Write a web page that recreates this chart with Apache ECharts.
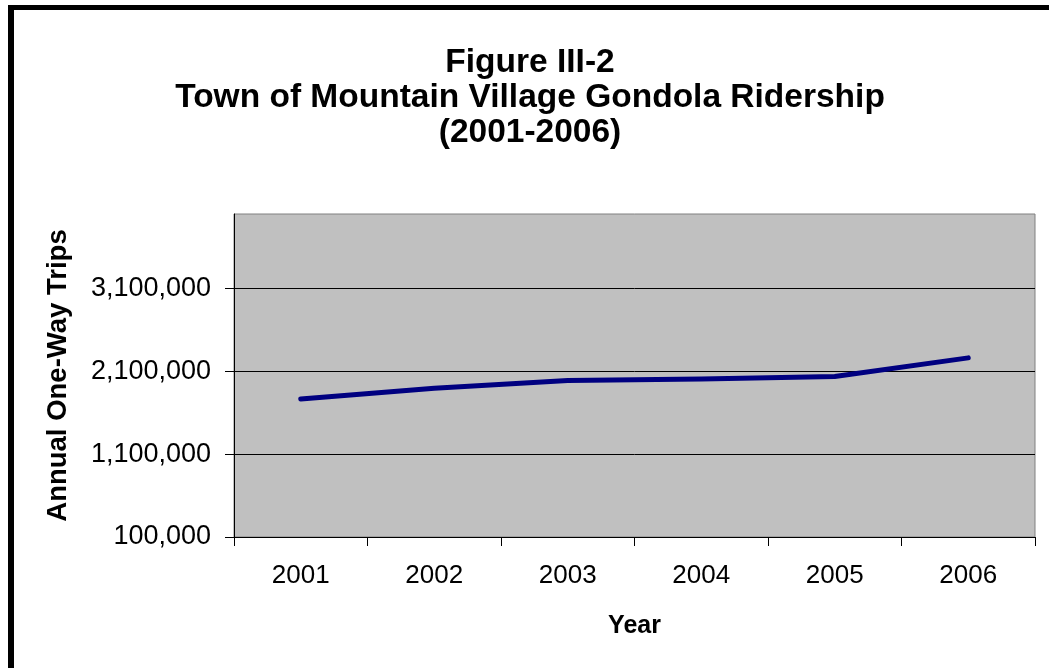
<!DOCTYPE html>
<html>
<head>
<meta charset="utf-8">
<script src="https://cdn.jsdelivr.net/npm/echarts@6/dist/echarts.min.js"></script>
<style>
  html, body { margin: 0; padding: 0; background: #fff; }
  #chart { width: 1049px; height: 668px; }
</style>
</head>
<body>
<div id="chart"></div>
<script>
// data
const years = ["2001", "2002", "2003", "2004", "2005", "2006"];
const trips = [1765000, 1897000, 1989000, 2008000, 2037000, 2263000];
const yTicks = [100000, 1100000, 2100000, 3100000];

const font = "'Liberation Sans', Arial, sans-serif";
const chart = echarts.init(document.getElementById("chart"));

chart.setOption({
  backgroundColor: "#fff",
  animation: false,
  title: {
    text: "Figure III-2\nTown of Mountain Village Gondola Ridership\n(2001-2006)",
    left: 530,
    top: 45,
    padding: 0,
    textAlign: "center",
    textStyle: {
      fontFamily: font,
      fontSize: 33.5,
      fontWeight: "bold",
      lineHeight: 35,
      color: "#000",
    },
  },
  // outer frame (left and top edges only visible)
  graphic: [
    { type: "rect", shape: { x: 8, y: 5, width: 6, height: 700 }, style: { fill: "#000" } },
    { type: "rect", shape: { x: 8, y: 5, width: 1100, height: 5 }, style: { fill: "#000" } },
  ],
  grid: {
    left: 234,
    top: 214,
    width: 801,
    height: 323,
    show: true,
    backgroundColor: "#c0c0c0",
    borderColor: "#808080",
    borderWidth: 1,
  },
  xAxis: {
    type: "category",
    data: years,
    boundaryGap: true,
    name: "Year",
    nameLocation: "middle",
    nameGap: 77,
    nameTextStyle: { fontFamily: font, fontSize: 25, fontWeight: "bold", color: "#000" },
    axisLine: { lineStyle: { color: "#000", width: 1 } },
    axisTick: { show: true, alignWithLabel: false, length: 9, lineStyle: { color: "#000" } },
    axisLabel: { fontFamily: font, fontSize: 26, color: "#000", margin: 26 },
    splitLine: { show: false },
  },
  yAxis: {
    type: "value",
    min: 100000,
    max: 4000000,
    interval: 1000000,
    name: "Annual One-Way Trips",
    nameLocation: "middle",
    nameGap: 162,
    nameTextStyle: { fontFamily: font, fontSize: 27.5, fontWeight: "bold", color: "#000" },
    axisLine: { show: true, lineStyle: { color: "#000", width: 1 } },
    axisTick: { show: true, length: 9, customValues: yTicks, lineStyle: { color: "#000" } },
    axisLabel: {
      fontFamily: font,
      fontSize: 27,
      color: "#000",
      margin: 23,
      customValues: yTicks,
      formatter: (v) => v.toLocaleString("en-US"),
    },
    splitLine: { show: true, lineStyle: { color: "#000", width: 1 } },
  },
  series: [
    {
      type: "line",
      data: trips,
      symbol: "none",
      lineStyle: { color: "#000080", width: 5, cap: "round", join: "round" },
    },
  ],
});
</script>
</body>
</html>
